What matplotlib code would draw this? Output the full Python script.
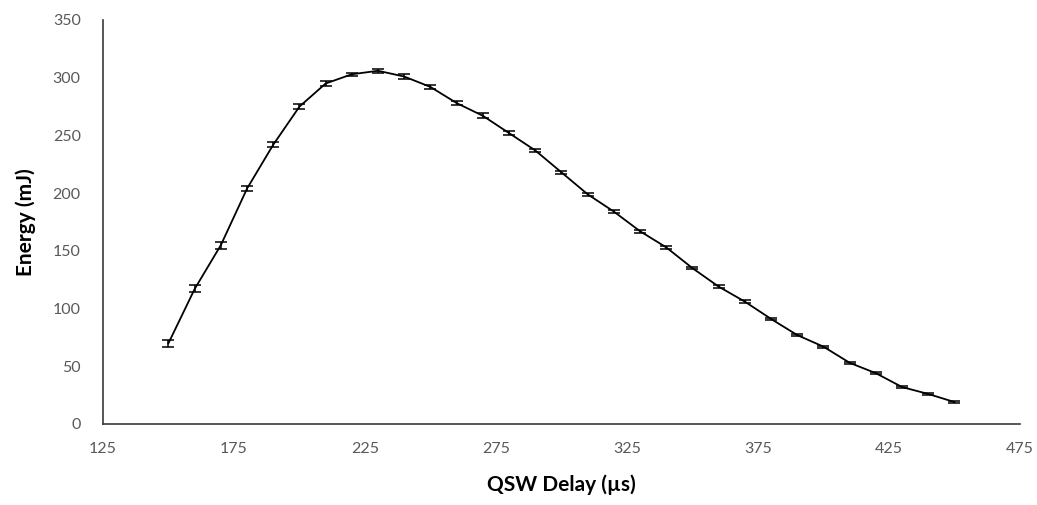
import matplotlib
matplotlib.use("Agg")
import matplotlib.pyplot as plt

# QSW gecikmesi (µs) ve ölçülen enerji (mJ)
gecikme = [150, 160, 170, 180, 190, 200, 210, 220, 230, 240, 250,
           260, 270, 280, 290, 300, 310, 320, 330, 340, 350,
           360, 370, 380, 390, 400, 410, 420, 430, 440, 450]
enerji = [70, 117, 155, 204, 242, 275, 295, 303, 306, 301, 292,
          278, 267, 252, 237, 218, 199, 184, 167, 153, 135,
          119, 106, 91, 77, 67, 53, 44, 32, 26, 19]
hata = [3, 3, 3, 2.5, 2, 2.5, 2, 1.5, 1.5, 2, 2,
        2, 2, 1.5, 1.5, 1.5, 1.5, 1.5, 1.5, 1.5, 1,
        1, 1, 1, 1, 1, 1, 1, 1, 1, 1]

x_ticks = [125, 175, 225, 275, 325, 375, 425, 475]
y_ticks = [0, 50, 100, 150, 200, 250, 300, 350]

plt.rcParams['font.family'] = ['Lato', 'DejaVu Sans']

fig = plt.figure(figsize=(10.37, 5.05), dpi=100)
ax = fig.add_axes([0.0993, 0.1604, 0.8843, 0.80])

ax.errorbar(gecikme, enerji, yerr=hata, color='black', linewidth=1.3,
            elinewidth=1.1, capsize=4, capthick=1.1)

ax.set_xlim(125, 475)
ax.set_ylim(0, 350)
ax.set_xticks(x_ticks)
ax.set_yticks(y_ticks)

for taraf in ['top', 'right']:
    ax.spines[taraf].set_visible(False)
for taraf in ['left', 'bottom']:
    ax.spines[taraf].set_color('#3a3a3a')
    ax.spines[taraf].set_linewidth(1.2)

ax.tick_params(axis='both', length=0, labelsize=11.5, labelcolor='#595959')
ax.tick_params(axis='x', pad=13)
ax.tick_params(axis='y', pad=16)

ax.set_xlabel("QSW Delay (µs)", fontsize=15, fontweight='bold', labelpad=13)
ax.set_ylabel("Energy (mJ)", fontsize=15, fontweight='bold', labelpad=12)

plt.savefig("out.png", dpi=100)
